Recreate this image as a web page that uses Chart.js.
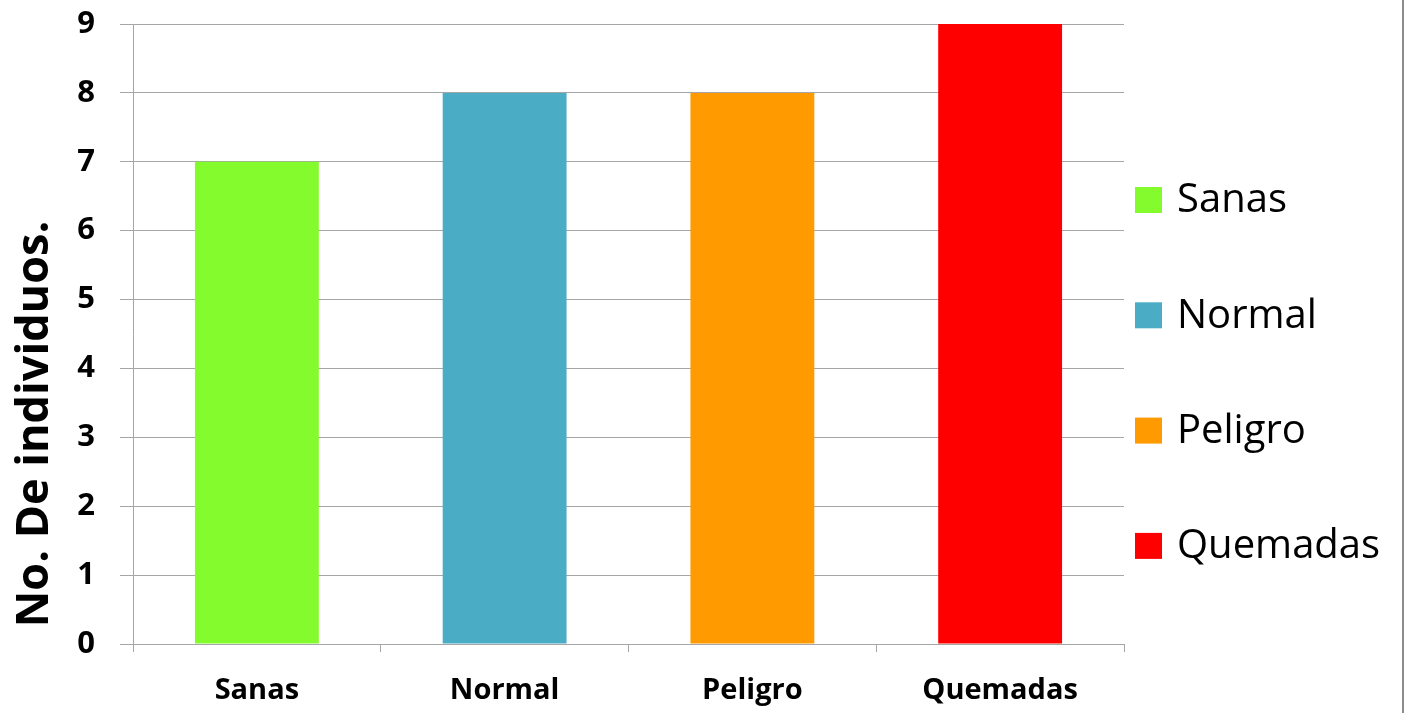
<!DOCTYPE html>
<html>
<head>
<meta charset="utf-8">
<script src="https://cdn.jsdelivr.net/npm/chart.js@4/dist/chart.umd.min.js"></script>
<style>
  html, body { margin: 0; padding: 0; background: #ffffff; }
  #wrap { position: relative; width: 1411px; height: 713px; }
  canvas { display: block; }
</style>
</head>
<body>
<div id="wrap"><canvas id="chart" width="1411" height="713"></canvas></div>
<script>
// Number of individuals per condition class
const categories = ['Sanas', 'Normal', 'Peligro', 'Quemadas'];
const counts = [7, 8, 8, 9];
const barColors = ['#84fb2c', '#4bacc6', '#ff9a00', '#ff0000'];
const yTicks = [0, 1, 2, 3, 4, 5, 6, 7, 8, 9];
const yTitle = 'No. De individuos.';

const gridColor = '#a6a6a6';

// Vertical axis title, legend column and the outer frame line
const decorations = {
  id: 'decorations',
  afterDraw(chart) {
    const ctx = chart.ctx;
    const area = chart.chartArea;
    ctx.save();

    // y-axis title, rotated
    ctx.translate(48, 424);
    ctx.rotate(-Math.PI / 2);
    ctx.fillStyle = '#000000';
    ctx.font = 'bold 45px "Open Sans"';
    ctx.textAlign = 'center';
    ctx.textBaseline = 'alphabetic';
    ctx.fillText(yTitle, 0, 0, 429);
    ctx.setTransform(1, 0, 0, 1, 0, 0);

    // legend
    const labels = chart.data.labels;
    const colors = chart.data.datasets[0].backgroundColor;
    const startY = 200, step = 115.3;
    ctx.font = '40px "Open Sans"';
    ctx.textAlign = 'left';
    ctx.textBaseline = 'middle';
    labels.forEach((lab, i) => {
      const cy = startY + i * step;
      ctx.fillStyle = colors[i];
      ctx.fillRect(area.right + 11, cy - 13, 27, 26);
      ctx.fillStyle = '#000000';
      ctx.fillText(lab, area.right + 53, cy + 1);
    });

    // right frame line
    ctx.strokeStyle = '#8c8c8c';
    ctx.lineWidth = 2;
    ctx.beginPath();
    ctx.moveTo(1403, 0);
    ctx.lineTo(1403, 713);
    ctx.stroke();
    ctx.restore();
  }
};

new Chart(document.getElementById('chart'), {
  type: 'bar',
  data: {
    labels: categories,
    datasets: [{
      data: counts,
      backgroundColor: barColors,
      borderWidth: 0,
      categoryPercentage: 1.0,
      barPercentage: 0.5
    }]
  },
  options: {
    responsive: false,
    animation: false,
    events: [],
    layout: { padding: { left: 70, right: 287, top: 24, bottom: 0 } },
    plugins: {
      legend: { display: false },
      tooltip: { enabled: false },
      title: { display: false }
    },
    scales: {
      x: {
        afterFit(scale) { scale.height = 69; },
        grid: {
          display: true,
          offset: true,
          drawOnChartArea: false,
          drawTicks: true,
          tickLength: 8,
          color: gridColor,
          lineWidth: 1
        },
        border: { display: true, color: gridColor, width: 1 },
        ticks: {
          color: '#000000',
          padding: 21,
          font: { family: '"Open Sans"', size: 29, weight: 'bold' }
        }
      },
      y: {
        min: 0,
        max: 9,
        afterFit(scale) {
          scale.width = 63;
          scale.paddingTop = 0;
          scale.paddingBottom = 0;
        },
        afterBuildTicks(scale) { scale.ticks = yTicks.map(v => ({ value: v })); },
        grid: {
          display: true,
          drawOnChartArea: true,
          drawTicks: true,
          tickLength: 13,
          color: gridColor,
          lineWidth: 1
        },
        border: { display: true, color: gridColor, width: 1 },
        ticks: {
          color: '#000000',
          padding: 25,
          font: { family: '"Open Sans"', size: 31, weight: 'bold' }
        }
      }
    }
  },
  plugins: [decorations]
});
</script>
</body>
</html>
